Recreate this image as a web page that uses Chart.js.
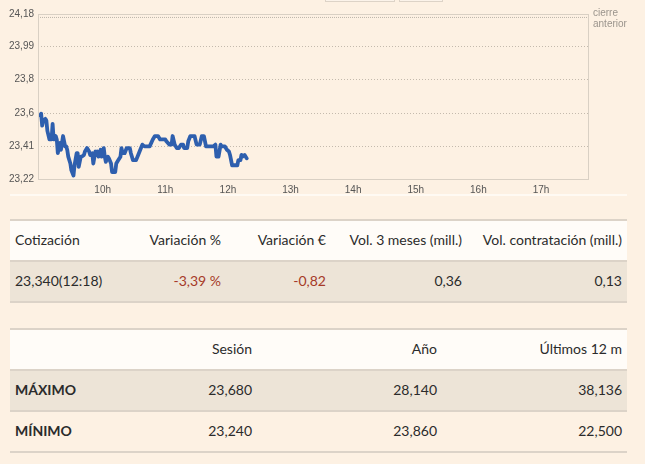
<!DOCTYPE html>
<html>
<head>
<meta charset="utf-8">
<script src="https://cdn.jsdelivr.net/npm/chart.js@4/dist/chart.umd.min.js"></script>
<style>
  body { margin: 0; background: #fdf1e3; font-family: Lato, "Open Sans", sans-serif; color: #2b2b2b; width: 645px; height: 464px; overflow: hidden; position: relative; }
  #chartBox { position: absolute; left: 0; top: 0; width: 645px; height: 196px; }
  #strip { position: absolute; left: 10px; top: 194px; width: 617px; height: 2px; background: #fffaf3; }
  .tab { position: absolute; top: -20px; height: 20px; border: 1px solid #ddd3c7; background: #fbf3ea; }
  table { position: absolute; left: 10px; width: 617px; border-collapse: collapse; table-layout: fixed; font-size: 14px; }
  td { height: 36px; padding: 0 5px 3px 5px; border-bottom: 2px solid #dcd3c8; white-space: nowrap; overflow: visible; }
  tr.head td { background: #fffcf8; }
  tr.shade td { background: #ede4d7; }
  table { border-top: 2px solid #dcd3c8; }
  .r { text-align: right; }
  .neg { color: #a63a28; }
  b { font-weight: 700; }
</style>
</head>
<body>
<div class="tab" style="left:325px;width:68px"></div>
<div class="tab" style="left:399px;width:42px"></div>
<div id="chartBox"><canvas id="myChart" width="645" height="196"></canvas></div>
<div id="strip"></div>

<table id="quote" style="top:219px">
  <colgroup><col style="width:120px"><col style="width:96px"><col style="width:105px"><col style="width:136px"><col style="width:160px"></colgroup>
  <tr class="head" id="quoteHead"></tr>
  <tr class="shade" id="quoteRow"></tr>
</table>

<table id="range" style="top:328px">
  <colgroup><col style="width:62px"><col style="width:185px"><col style="width:185px"><col style="width:185px"></colgroup>
  <tr class="head" id="rangeHead"></tr>
  <tr class="shade" id="rangeMax"></tr>
  <tr id="rangeMin"></tr>
</table>

<script>
// intraday price, session of 12:18
var times = ["09:00","09:01","09:02","09:03","09:05","09:06","09:07","09:09","09:11","09:12","09:13","09:15","09:16","09:17","09:19","09:20","09:21","09:22","09:24","09:25","09:26","09:27","09:29","09:30","09:32","09:33","09:35","09:36","09:37","09:39","09:40","09:42","09:43","09:45","09:47","09:48","09:50","09:51","09:53","09:54","09:55","09:56","09:58","09:59","10:01","10:02","10:03","10:05","10:06","10:08","10:09","10:12","10:13","10:15","10:17","10:18","10:19","10:21","10:23","10:26","10:27","10:29","10:32","10:34","10:36","10:38","10:40","10:45","10:48","10:50","10:53","10:55","11:00","11:01","11:04","11:06","11:07","11:09","11:11","11:13","11:15","11:17","11:18","11:21","11:22","11:24","11:28","11:30","11:33","11:35","11:37","11:39","11:46","11:48","11:49","11:51","11:53","11:54","11:57","11:59","12:01","12:02","12:04","12:09","12:10","12:12","12:13","12:14","12:16","12:18"];
var prices = [23.59,23.60,23.53,23.56,23.57,23.56,23.50,23.45,23.45,23.54,23.45,23.47,23.45,23.37,23.43,23.39,23.43,23.47,23.41,23.41,23.39,23.35,23.31,23.27,23.24,23.30,23.37,23.37,23.29,23.35,23.35,23.36,23.38,23.40,23.38,23.36,23.37,23.31,23.38,23.36,23.38,23.35,23.39,23.35,23.40,23.35,23.32,23.35,23.34,23.31,23.26,23.26,23.31,23.33,23.35,23.40,23.37,23.37,23.40,23.40,23.37,23.33,23.33,23.36,23.39,23.42,23.41,23.41,23.45,23.47,23.47,23.45,23.45,23.44,23.42,23.42,23.47,23.42,23.40,23.40,23.42,23.42,23.40,23.40,23.44,23.47,23.47,23.42,23.42,23.47,23.47,23.41,23.41,23.42,23.35,23.35,23.42,23.41,23.41,23.39,23.38,23.36,23.30,23.30,23.33,23.33,23.36,23.35,23.36,23.34];
var prevClose = 24.16;

var yTicks = [23.22, 23.41, 23.6, 23.8, 23.99, 24.18];
var hourTicks = [10, 11, 12, 13, 14, 15, 16, 17];
var sessionStart = "09:00";

// tables
var quoteHeaders = ["Cotización", "Variación %", "Variación €", "Vol. 3 meses (mill.)", "Vol. contratación (mill.)"];
var quoteValues = ["23,340(12:18)", "-3,39 %", "-0,82", "0,36", "0,13"];
var rangeHeaders = ["", "Sesión", "Año", "Últimos 12 m"];
var rangeMax = ["MÁXIMO", "23,680", "28,140", "38,136"];
var rangeMin = ["MÍNIMO", "23,240", "23,860", "22,500"];

function toMin(t) {
  var p = t.split(":");
  var s = sessionStart.split(":");
  return (+p[0] * 60 + +p[1]) - (+s[0] * 60 + +s[1]);
}
function comma(v) { return String(v).replace(".", ","); }

function fillRow(id, cells, opts) {
  var tr = document.getElementById(id);
  cells.forEach(function (c, i) {
    var td = document.createElement("td");
    if (i > 0) td.className = "r";
    if (opts && opts.neg && opts.neg.indexOf(i) >= 0) td.className += " neg";
    if (opts && opts.bold && i == 0) td.innerHTML = "<b>" + c + "</b>";
    else td.textContent = c;
    tr.appendChild(td);
  });
}
fillRow("quoteHead", quoteHeaders);
fillRow("quoteRow", quoteValues, { neg: [1, 2] });
fillRow("rangeHead", rangeHeaders);
fillRow("rangeMax", rangeMax, { bold: true });
fillRow("rangeMin", rangeMin, { bold: true });

// frame round the plot + label of previous close
var framePlugin = {
  id: "frame",
  afterDraw: function (chart) {
    var a = chart.chartArea, c = chart.ctx;
    c.save();
    c.strokeStyle = "#d9d0c4";
    c.lineWidth = 1;
    c.strokeRect(a.left + 0.5, a.top + 0.5, a.right - a.left - 1, a.bottom - a.top);
    var y = chart.scales.y.getPixelForValue(prevClose);
    c.fillStyle = "#9a948c";
    c.font = "10px 'Liberation Sans', Arial, sans-serif";
    c.textBaseline = "middle";
    c.fillText("cierre", a.right + 4, y - 4);
    c.fillText("anterior", a.right + 4, y + 7);
    c.restore();
  }
};

var ctx = document.getElementById("myChart").getContext("2d");
var xMax = toMin("17:46");

var chartData = {
  datasets: [
    {
      label: "Cotización",
      data: times.map(function (t, i) { return { x: toMin(t), y: prices[i] }; }),
      borderColor: "#2e5fae",
      borderWidth: 3.8,
      pointRadius: 0,
      tension: 0,
      borderJoinStyle: "round",
      borderCapStyle: "round",
    },
    {
      label: "cierre anterior",
      data: [{ x: toMin("08:58"), y: prevClose }, { x: xMax, y: prevClose }],
      borderColor: "#bdb4a9",
      borderWidth: 1,
      borderDash: [1, 1],
      pointRadius: 0,
    },
  ],
};

var myChart = new Chart(ctx, {
  type: "line",
  data: chartData,
  plugins: [framePlugin],
  options: {
    responsive: false,
    animation: false,
    layout: { padding: { top: 14, right: 56, left: 0, bottom: 0 } },
    plugins: { legend: { display: false }, tooltip: { enabled: false } },
    scales: {
      x: {
        type: "linear",
        min: toMin("08:58"),
        max: xMax,
        afterFit: function (s) { s.height = 17; },
        afterBuildTicks: function (s) {
          s.ticks = hourTicks.map(function (h) { return { value: (h - 9) * 60 }; });
        },
        ticks: {
          padding: 5,
          color: "#555",
          font: { family: "'Liberation Sans', Arial", size: 10 },
          callback: function (v) { return (9 + v / 60) + "h"; },
        },
        grid: { display: false, drawTicks: false },
        border: { display: false },
      },
      y: {
        min: 23.22,
        max: 24.18,
        afterFit: function (s) { s.width = 38; },
        afterBuildTicks: function (s) {
          s.ticks = yTicks.map(function (v) { return { value: v }; });
        },
        ticks: {
          padding: 4,
          color: "#555",
          font: { family: "'Liberation Sans', Arial", size: 10 },
          callback: function (v) { return comma(v); },
        },
        grid: {
          drawTicks: false,
          color: function (c) {
            return (c.index == 0 || c.index == yTicks.length - 1) ? "rgba(0,0,0,0)" : "#c4baad";
          },
        },
        border: { display: false, dash: [1, 2] },
      },
    },
  },
});
</script>
</body>
</html>
